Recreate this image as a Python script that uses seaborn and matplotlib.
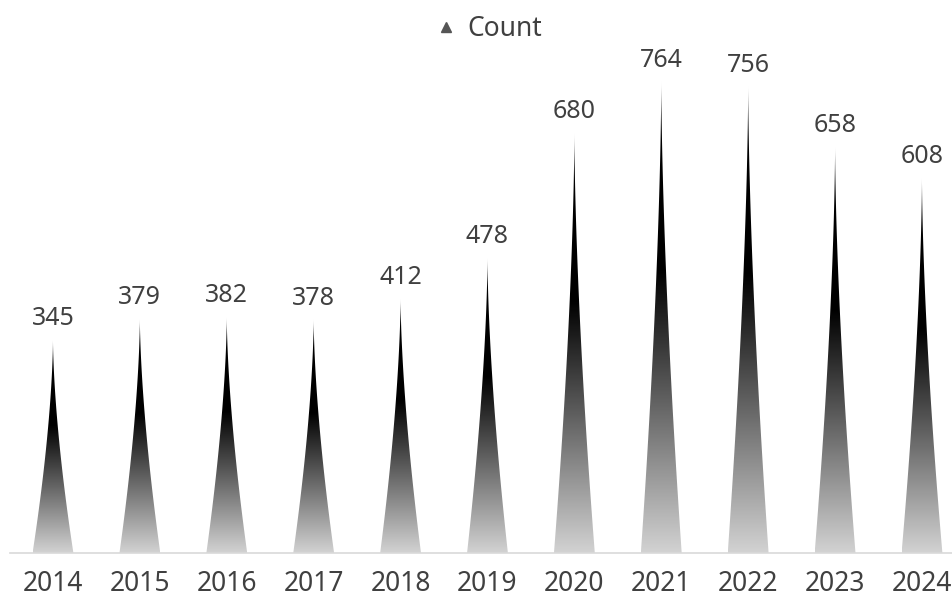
import matplotlib.pyplot as plt
import numpy as np
import seaborn as sns
from matplotlib.colors import LinearSegmentedColormap
from matplotlib.lines import Line2D
from matplotlib.patches import Polygon

years = ["2014", "2015", "2016", "2017", "2018", "2019",
         "2020", "2021", "2022", "2023", "2024"]
counts = [345, 379, 382, 378, 412, 478, 680, 764, 756, 658, 608]

TEXT_COLOR = "#404040"
AXIS_COLOR = "#d9d9d9"

sns.set_theme(style="white")
plt.rcParams["font.family"] = ["Noto Sans", "DejaVu Sans"]

# bottom -> top: light gray to black
spike_cmap = LinearSegmentedColormap.from_list(
    "spike", [(0.0, "#d2d2d2"), (0.6, "#000000"), (1.0, "#000000")]
)

fig = plt.figure(figsize=(9.53, 5.99), dpi=100)
ax = fig.add_axes([0.01, 46 / 599, 0.99, 508 / 599])

sns.barplot(x=years, y=counts, width=0.47, color="black", ax=ax)

grad = np.linspace(1, 0, 256).reshape(-1, 1)
t = np.linspace(0, 1, 100)

for p, val in zip(ax.patches, counts):
    p.set_visible(False)
    cx = p.get_x() + p.get_width() / 2
    hw = p.get_width() / 2
    h = p.get_height()

    # concave spike outline
    half = hw * (1 - t) ** 1.6
    xs = np.concatenate([cx - half, (cx + half)[::-1]])
    ys = np.concatenate([t * h, (t * h)[::-1]])
    poly = Polygon(np.column_stack([xs, ys]), closed=True,
                   facecolor="none", edgecolor="none")
    ax.add_patch(poly)

    im = ax.imshow(grad, cmap=spike_cmap, vmin=0, vmax=1,
                   extent=[cx - hw, cx + hw, 0, h],
                   aspect="auto", interpolation="bilinear", zorder=2)
    im.set_clip_path(poly)

    ax.annotate(f"{val}", xy=(cx, h), xytext=(0, 11),
                textcoords="offset points", ha="center", va="baseline",
                fontsize=18, color=TEXT_COLOR)

ax.set_xlim(-0.5, 10.357)
ax.set_ylim(0, 824)
ax.set_aspect("auto")

ax.set_xlabel("")
ax.set_ylabel("")
ax.set_yticks([])
ax.tick_params(axis="x", length=0, pad=12, labelsize=19, labelcolor=TEXT_COLOR)

sns.despine(ax=ax, left=True, top=True, right=True)
ax.spines["bottom"].set_color(AXIS_COLOR)
ax.spines["bottom"].set_linewidth(1.2)

handle = Line2D([], [], linestyle="none", marker="^", markersize=7,
                color="#555555")
fig.legend([handle], ["Count"], loc="upper center",
           bbox_to_anchor=(0.513, 1.015), frameon=False, fontsize=19,
           labelcolor=TEXT_COLOR, handlelength=0.8, handletextpad=0.4)

fig.savefig("out.png", dpi=100)
